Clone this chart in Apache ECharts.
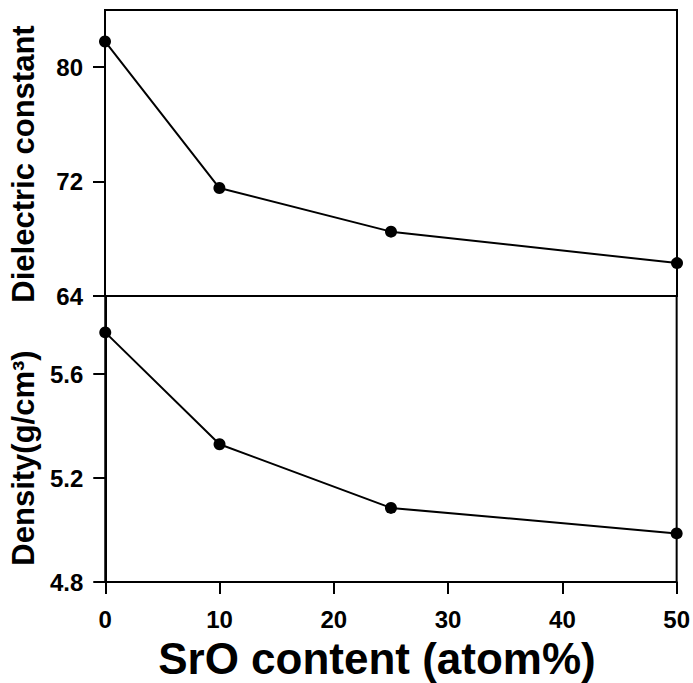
<!DOCTYPE html>
<html>
<head>
<meta charset="utf-8">
<script src="https://cdn.jsdelivr.net/npm/echarts@6/dist/echarts.min.js"></script>
<style>
  html, body { margin: 0; padding: 0; background: #fff; }
  #chart { width: 693px; height: 683px; }
</style>
</head>
<body>
<div id="chart"></div>
<script>
// data
var srO = [0, 10, 25, 50];
var dielectric = [81.8, 71.55, 68.5, 66.3];
var density = [5.76, 5.33, 5.085, 4.987];

(function() {
  var ink = '#000';
  var font = '"Liberation Sans", Arial, sans-serif';
  var chart = echarts.init(document.getElementById('chart'), null, { renderer: 'svg' });

  function pairs(ys) {
    return srO.map(function(x, i) { return [x, ys[i]]; });
  }

  var tickLabel = { color: ink, fontSize: 24, fontWeight: 'bold', fontFamily: font };
  var axisLine = { show: true, lineStyle: { color: ink, width: 2 } };
  var axisTick = { show: true, inside: false, length: 12, lineStyle: { color: ink, width: 2 } };

  chart.setOption({
    animation: false,
    grid: [
      { left: 105, right: 16, top: 10, height: 286, show: true, borderColor: ink, borderWidth: 2, backgroundColor: 'transparent' },
      { left: 105, right: 16, top: 296, height: 286, show: true, borderColor: ink, borderWidth: 2, backgroundColor: 'transparent' }
    ],
    xAxis: [
      {
        gridIndex: 0, type: 'value', min: 0, max: 50, interval: 10,
        axisLine: { show: false }, axisTick: { show: false },
        axisLabel: { show: false }, splitLine: { show: false }
      },
      {
        gridIndex: 1, type: 'value', min: 0, max: 50, interval: 10,
        name: 'SrO content (atom%)',
        nameLocation: 'middle',
        nameGap: 54,
        nameTextStyle: { color: ink, fontSize: 44, lineHeight: 44, fontWeight: 'bold', fontFamily: font, padding: [0, 28, 0, 0] },
        axisLine: axisLine,
        axisTick: axisTick,
        axisLabel: Object.assign({ margin: 25, lineHeight: 24 }, tickLabel),
        splitLine: { show: false }
      }
    ],
    yAxis: [
      {
        gridIndex: 0, type: 'value', min: 64, max: 84, interval: 8,
        name: 'Dielectric constant',
        nameLocation: 'middle',
        nameGap: 66,
        nameTextStyle: { color: ink, fontSize: 31, fontWeight: 'bold', fontFamily: font, padding: [0, 22, 0, 0] },
        axisLine: axisLine,
        axisTick: axisTick,
        axisLabel: Object.assign({ margin: 22, showMaxLabel: false }, tickLabel),
        splitLine: { show: false }
      },
      {
        gridIndex: 1, type: 'value', min: 4.8, max: 5.9, interval: 0.4,
        name: 'Density(g/cm³)',
        nameLocation: 'middle',
        nameGap: 66,
        nameTextStyle: { color: ink, fontSize: 31, fontWeight: 'bold', fontFamily: font, padding: [0, 38, 0, 0] },
        axisLine: axisLine,
        axisTick: axisTick,
        axisLabel: Object.assign({ margin: 22, showMaxLabel: false,
          formatter: function(v) { return v.toFixed(1); } }, tickLabel),
        splitLine: { show: false }
      }
    ],
    series: [
      {
        type: 'line', xAxisIndex: 0, yAxisIndex: 0,
        data: pairs(dielectric),
        symbol: 'circle', symbolSize: 12,
        lineStyle: { color: ink, width: 2 },
        itemStyle: { color: ink }
      },
      {
        type: 'line', xAxisIndex: 1, yAxisIndex: 1,
        data: pairs(density),
        symbol: 'circle', symbolSize: 12,
        lineStyle: { color: ink, width: 2 },
        itemStyle: { color: ink }
      }
    ]
  });
})();
</script>
</body>
</html>
